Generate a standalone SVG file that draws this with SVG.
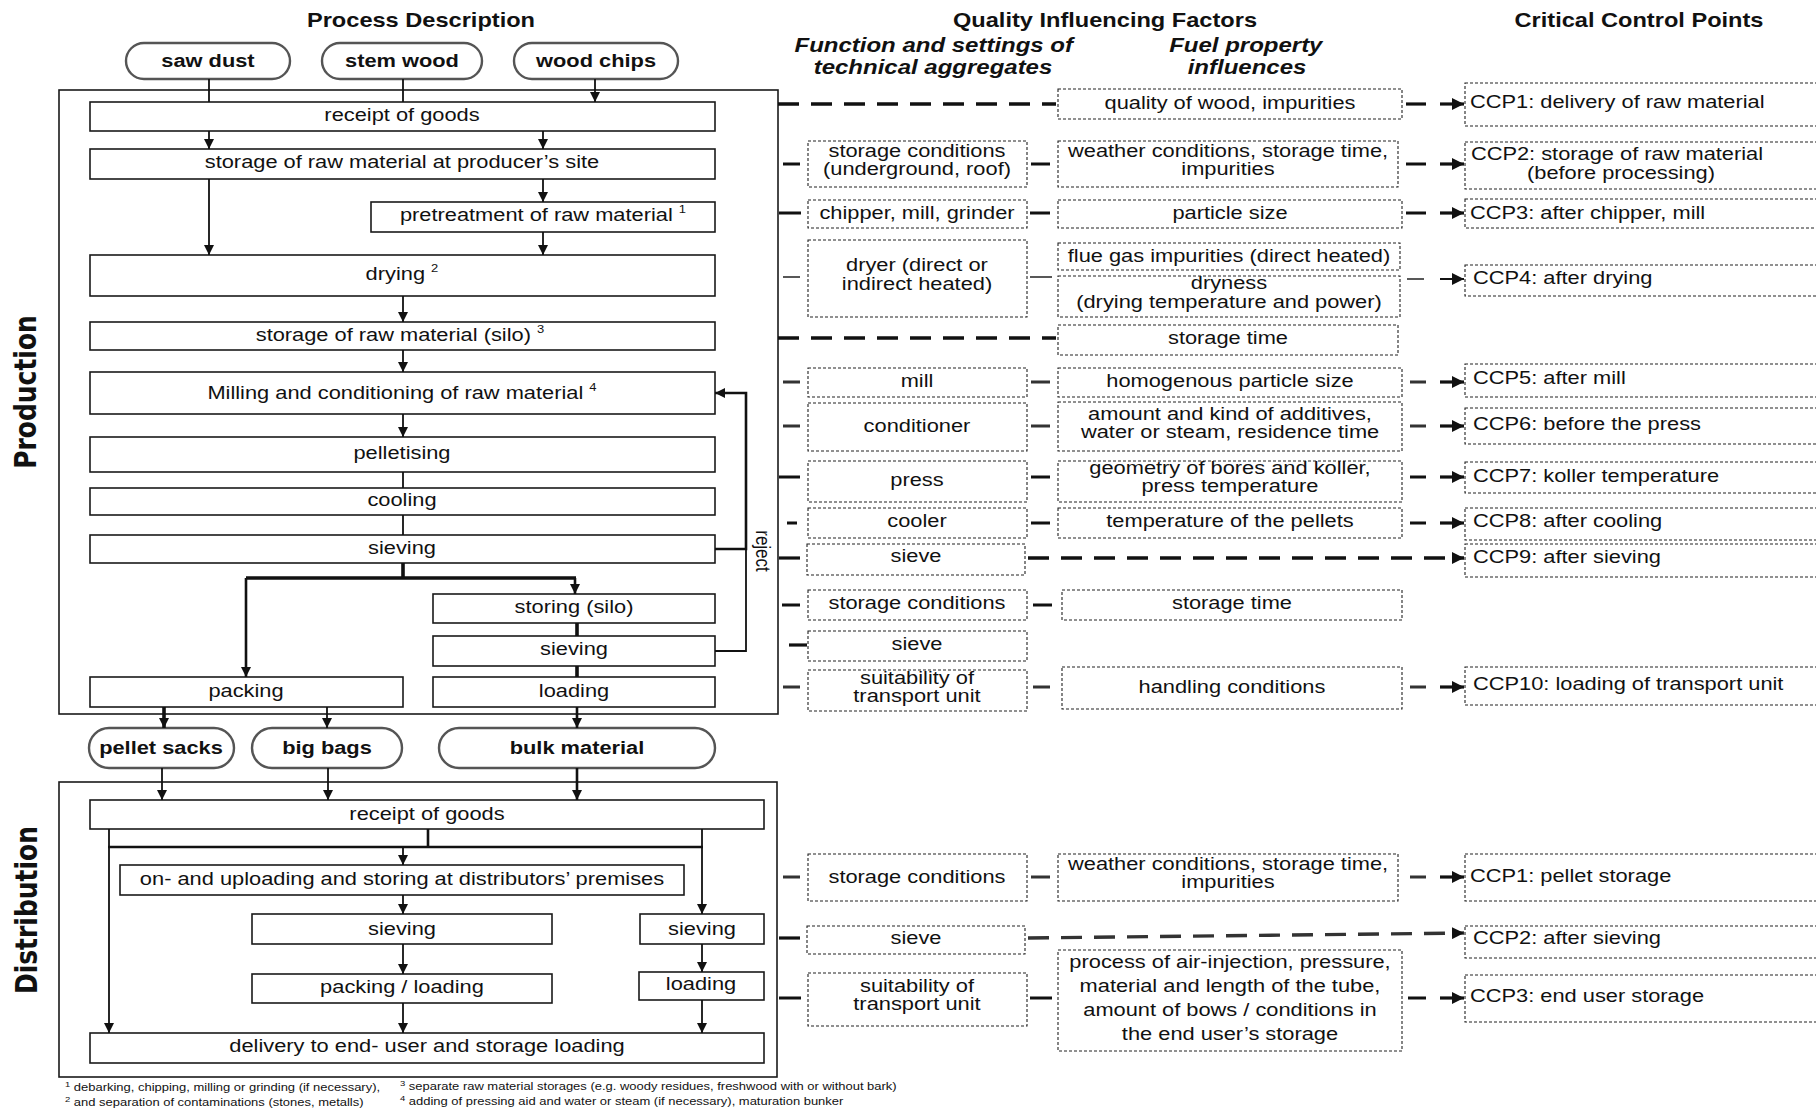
<svg xmlns="http://www.w3.org/2000/svg" width="1816" height="1110" viewBox="0 0 1816 1110">
<defs>
  <marker id="ah" markerUnits="userSpaceOnUse" markerWidth="10" markerHeight="10" refX="10" refY="5" orient="auto">
    <path d="M0,0 L10,5 L0,10 z" fill="#111"/>
  </marker>
  <marker id="ahb" markerUnits="userSpaceOnUse" markerWidth="12" markerHeight="12" refX="12" refY="6" orient="auto">
    <path d="M0,0 L12,6 L0,12 z" fill="#111"/>
  </marker>
  <style>
    .box{fill:#fff;stroke:#1a1a1a;stroke-width:1.6}
    .frame{fill:none;stroke:#1a1a1a;stroke-width:1.6}
    .pill{fill:#fff;stroke:#555;stroke-width:2.4}
    .dbox{fill:#fff;stroke:#222;stroke-width:1.1;stroke-dasharray:3 2}
    text{font-family:"Liberation Sans",Arial,Helvetica,sans-serif;fill:#111}
    .t,.tl,.pt,.hd,.sh,.fn{transform-box:fill-box;transform:scaleX(1.18)}
    .t{font-size:18.5px;text-anchor:middle;transform-origin:center}
    .tl{font-size:18.5px;text-anchor:start;transform-origin:0 50%}
    .pt{font-size:18.5px;font-weight:bold;text-anchor:middle;transform-origin:center}
    .hd{font-size:20px;font-weight:bold;text-anchor:middle;transform-origin:center}
    .sh{font-size:20px;font-weight:bold;font-style:italic;text-anchor:middle;transform-origin:center;transform:scaleX(1.2)}
    .fn{font-size:11px;text-anchor:start;transform-origin:0 50%}
    .vl{font-family:"DejaVu Sans",Verdana,sans-serif;font-size:25px;font-weight:bold;text-anchor:middle}
    .rj{font-size:17px;text-anchor:middle}
    .sup{font-size:11px}
    .fsup{font-size:8px}
    .ln{fill:none;stroke:#111;stroke-width:1.8}
    .lm{fill:none;stroke:#111;stroke-width:2.6}
    .lk{fill:none;stroke:#111;stroke-width:3.6}
    .dl{fill:none;stroke:#111;stroke-width:3.4;stroke-dasharray:21 12}
    .st{fill:none;stroke:#111;stroke-width:3.2}
    .sn{fill:none;stroke:#222;stroke-width:1.6}
  </style>
</defs>
<rect width="1816" height="1110" fill="#fff"/>

<!-- column headings -->
<g id="headings">
  <text class="hd" x="421" y="27">Process Description</text>
  <text class="hd" x="1105" y="27">Quality Influencing Factors</text>
  <text class="hd" x="1639" y="27">Critical Control Points</text>
  <text class="sh" x="934" y="52">Function and settings of</text>
  <text class="sh" x="933" y="74.5">technical aggregates</text>
  <text class="sh" x="1246" y="52">Fuel property</text>
  <text class="sh" x="1247" y="74.5">influences</text>
</g>

<!-- section frames and labels -->
<g id="production">
  <rect class="frame" x="59" y="90" width="719" height="624"/>
  <text class="vl" transform="translate(36 392) scale(1.18 1) rotate(-90)">Production</text>
</g>
<g id="distribution">
  <rect class="frame" x="59" y="782" width="718" height="295"/>
  <text class="vl" transform="translate(37 910) scale(1.18 1) rotate(-90)">Distribution</text>
</g>

<!-- raw material inputs -->
<g id="in-saw-dust"><rect class="pill" x="126" y="43" width="164" height="36" rx="18"/><text class="pt" x="208" y="67">saw dust</text></g>
<g id="in-stem-wood"><rect class="pill" x="322" y="43" width="160" height="36" rx="18"/><text class="pt" x="402" y="67">stem wood</text></g>
<g id="in-wood-chips"><rect class="pill" x="514" y="43" width="164" height="36" rx="18"/><text class="pt" x="596" y="67">wood chips</text></g>

<!-- production steps -->
<g id="p-receipt"><rect class="box" x="90" y="102" width="625" height="29"/><text class="t" x="402" y="121">receipt of goods</text></g>
<g id="p-storage"><rect class="box" x="90" y="149" width="625" height="30"/><text class="t" x="402" y="168">storage of raw material at producer’s site</text></g>
<g id="p-pretreat"><rect class="box" x="371" y="202" width="344" height="30"/><text class="t" x="543" y="221">pretreatment of raw material <tspan class="sup" dy="-8">1</tspan></text></g>
<g id="p-drying"><rect class="box" x="90" y="255" width="625" height="41"/><text class="t" x="402" y="280">drying <tspan class="sup" dy="-8">2</tspan></text></g>
<g id="p-silo"><rect class="box" x="90" y="322" width="625" height="28"/><text class="t" x="400" y="341">storage of raw material (silo) <tspan class="sup" dy="-8">3</tspan></text></g>
<g id="p-milling"><rect class="box" x="90" y="372" width="625" height="42"/><text class="t" x="402" y="399">Milling and conditioning of raw material <tspan class="sup" dy="-8">4</tspan></text></g>
<g id="p-pelletising"><rect class="box" x="90" y="437" width="625" height="35"/><text class="t" x="402" y="459">pelletising</text></g>
<g id="p-cooling"><rect class="box" x="90" y="488" width="625" height="27"/><text class="t" x="402" y="506">cooling</text></g>
<g id="p-sieving"><rect class="box" x="90" y="535" width="625" height="28"/><text class="t" x="402" y="554">sieving</text></g>
<g id="p-storing"><rect class="box" x="433" y="594" width="282" height="29"/><text class="t" x="574" y="613">storing (silo)</text></g>
<g id="p-sieving2"><rect class="box" x="433" y="636" width="282" height="30"/><text class="t" x="574" y="655">sieving</text></g>
<g id="p-packing"><rect class="box" x="90" y="677" width="313" height="30"/><text class="t" x="246" y="697">packing</text></g>
<g id="p-loading"><rect class="box" x="433" y="677" width="282" height="30"/><text class="t" x="574" y="697">loading</text></g>

<!-- products -->
<g id="out-pellet-sacks"><rect class="pill" x="89" y="728" width="145" height="40" rx="20"/><text class="pt" x="161" y="754">pellet sacks</text></g>
<g id="out-big-bags"><rect class="pill" x="252" y="728" width="150" height="40" rx="20"/><text class="pt" x="327" y="754">big bags</text></g>
<g id="out-bulk"><rect class="pill" x="439" y="728" width="276" height="40" rx="20"/><text class="pt" x="577" y="754">bulk material</text></g>

<!-- distribution steps -->
<g id="d-receipt"><rect class="box" x="90" y="800" width="674" height="29"/><text class="t" x="427" y="820">receipt of goods</text></g>
<g id="d-uploading"><rect class="box" x="120" y="865" width="564" height="30"/><text class="t" x="402" y="885">on- and uploading and storing at distributors’ premises</text></g>
<g id="d-sieving1"><rect class="box" x="252" y="914" width="300" height="30"/><text class="t" x="402" y="935">sieving</text></g>
<g id="d-sieving2"><rect class="box" x="640" y="914" width="124" height="30"/><text class="t" x="702" y="935">sieving</text></g>
<g id="d-packing"><rect class="box" x="252" y="974" width="300" height="29"/><text class="t" x="402" y="993">packing / loading</text></g>
<g id="d-loading"><rect class="box" x="639" y="972" width="125" height="28"/><text class="t" x="701" y="990">loading</text></g>
<g id="d-delivery"><rect class="box" x="90" y="1033" width="674" height="30"/><text class="t" x="427" y="1052">delivery to end- user and storage loading</text></g>

<!-- technical aggregates -->
<g id="a-storage"><rect class="dbox" x="808" y="141" width="219" height="46"/><text class="t" x="917" y="157">storage conditions</text><text class="t" x="917" y="175">(underground, roof)</text></g>
<g id="a-chipper"><rect class="dbox" x="808" y="200" width="219" height="28"/><text class="t" x="917" y="219">chipper, mill, grinder</text></g>
<g id="a-dryer"><rect class="dbox" x="808" y="240" width="219" height="77"/><text class="t" x="917" y="271">dryer (direct or</text><text class="t" x="917" y="290">indirect heated)</text></g>
<g id="a-mill"><rect class="dbox" x="808" y="368" width="219" height="29"/><text class="t" x="917" y="387">mill</text></g>
<g id="a-conditioner"><rect class="dbox" x="808" y="403" width="219" height="48"/><text class="t" x="917" y="432">conditioner</text></g>
<g id="a-press"><rect class="dbox" x="808" y="461" width="219" height="41"/><text class="t" x="917" y="486">press</text></g>
<g id="a-cooler"><rect class="dbox" x="808" y="508" width="219" height="30"/><text class="t" x="917" y="527">cooler</text></g>
<g id="a-sieve"><rect class="dbox" x="807" y="544" width="218" height="31"/><text class="t" x="916" y="562">sieve</text></g>
<g id="a-storage2"><rect class="dbox" x="808" y="590" width="219" height="30"/><text class="t" x="917" y="609">storage conditions</text></g>
<g id="a-sieve2"><rect class="dbox" x="808" y="631" width="219" height="30"/><text class="t" x="917" y="650">sieve</text></g>
<g id="a-transport"><rect class="dbox" x="808" y="670" width="219" height="41"/><text class="t" x="917" y="684">suitability of</text><text class="t" x="917" y="702">transport unit</text></g>
<g id="a-d-storage"><rect class="dbox" x="808" y="854" width="219" height="47"/><text class="t" x="917" y="883">storage conditions</text></g>
<g id="a-d-sieve"><rect class="dbox" x="807" y="926" width="218" height="28"/><text class="t" x="916" y="944">sieve</text></g>
<g id="a-d-transport"><rect class="dbox" x="808" y="973" width="219" height="53"/><text class="t" x="917" y="992">suitability of</text><text class="t" x="917" y="1010">transport unit</text></g>

<!-- fuel property influences -->
<g id="f-wood"><rect class="dbox" x="1058" y="89" width="344" height="30"/><text class="t" x="1230" y="109">quality of wood, impurities</text></g>
<g id="f-weather"><rect class="dbox" x="1058" y="141" width="340" height="46"/><text class="t" x="1228" y="157">weather conditions, storage time,</text><text class="t" x="1228" y="175">impurities</text></g>
<g id="f-particle"><rect class="dbox" x="1058" y="200" width="344" height="28"/><text class="t" x="1230" y="219">particle size</text></g>
<g id="f-fluegas"><rect class="dbox" x="1058" y="243" width="342" height="27"/><text class="t" x="1229" y="262">flue gas impurities (direct heated)</text></g>
<g id="f-dryness"><rect class="dbox" x="1058" y="276" width="342" height="41"/><text class="t" x="1229" y="289">dryness</text><text class="t" x="1229" y="308">(drying temperature and power)</text></g>
<g id="f-storagetime"><rect class="dbox" x="1058" y="325" width="340" height="30"/><text class="t" x="1228" y="344">storage time</text></g>
<g id="f-homogen"><rect class="dbox" x="1058" y="368" width="344" height="29"/><text class="t" x="1230" y="387">homogenous particle size</text></g>
<g id="f-additives"><rect class="dbox" x="1058" y="402" width="344" height="49"/><text class="t" x="1230" y="420">amount and kind of additives,</text><text class="t" x="1230" y="438">water or steam, residence time</text></g>
<g id="f-geometry"><rect class="dbox" x="1058" y="461" width="344" height="41"/><text class="t" x="1230" y="474">geometry of bores and koller,</text><text class="t" x="1230" y="492">press temperature</text></g>
<g id="f-temp"><rect class="dbox" x="1058" y="508" width="344" height="30"/><text class="t" x="1230" y="527">temperature of the pellets</text></g>
<g id="f-storagetime2"><rect class="dbox" x="1062" y="590" width="340" height="30"/><text class="t" x="1232" y="609">storage time</text></g>
<g id="f-handling"><rect class="dbox" x="1062" y="667" width="340" height="42"/><text class="t" x="1232" y="693">handling conditions</text></g>
<g id="f-d-weather"><rect class="dbox" x="1058" y="854" width="340" height="47"/><text class="t" x="1228" y="870">weather conditions, storage time,</text><text class="t" x="1228" y="888">impurities</text></g>
<g id="f-d-airinjection"><rect class="dbox" x="1058" y="950" width="344" height="101"/><text class="t" x="1230" y="968">process of air-injection, pressure,</text><text class="t" x="1230" y="992">material and length of the tube,</text><text class="t" x="1230" y="1016">amount of bows / conditions in</text><text class="t" x="1230" y="1040">the end user’s storage</text></g>

<!-- critical control points -->
<g id="ccp1"><rect class="dbox" x="1465" y="83" width="360" height="43"/><text class="tl" x="1470" y="108">CCP1: delivery of raw material</text></g>
<g id="ccp2"><rect class="dbox" x="1465" y="142" width="360" height="47"/><text class="t" x="1617" y="160">CCP2: storage of raw material</text><text class="t" x="1621" y="179">(before processing)</text></g>
<g id="ccp3"><rect class="dbox" x="1465" y="199" width="360" height="29"/><text class="tl" x="1470" y="219">CCP3: after chipper, mill</text></g>
<g id="ccp4"><rect class="dbox" x="1465" y="265" width="360" height="31"/><text class="tl" x="1473" y="284">CCP4: after drying</text></g>
<g id="ccp5"><rect class="dbox" x="1465" y="364" width="360" height="33"/><text class="tl" x="1473" y="384">CCP5: after mill</text></g>
<g id="ccp6"><rect class="dbox" x="1465" y="408" width="360" height="36"/><text class="tl" x="1473" y="430">CCP6: before the press</text></g>
<g id="ccp7"><rect class="dbox" x="1465" y="462" width="360" height="31"/><text class="tl" x="1473" y="482">CCP7: koller temperature</text></g>
<g id="ccp8"><rect class="dbox" x="1465" y="508" width="360" height="32"/><text class="tl" x="1473" y="527">CCP8: after cooling</text></g>
<g id="ccp9"><rect class="dbox" x="1465" y="544" width="360" height="33"/><text class="tl" x="1473" y="563">CCP9: after sieving</text></g>
<g id="ccp10"><rect class="dbox" x="1465" y="667" width="360" height="38"/><text class="tl" x="1473" y="690">CCP10: loading of transport unit</text></g>
<g id="d-ccp1"><rect class="dbox" x="1465" y="854" width="360" height="47"/><text class="tl" x="1470" y="882">CCP1: pellet storage</text></g>
<g id="d-ccp2"><rect class="dbox" x="1465" y="926" width="360" height="32"/><text class="tl" x="1473" y="944">CCP2: after sieving</text></g>
<g id="d-ccp3"><rect class="dbox" x="1465" y="975" width="360" height="47"/><text class="tl" x="1470" y="1002">CCP3: end user storage</text></g>

<!-- footnotes -->
<g id="footnotes">
  <text class="fn" x="65" y="1091"><tspan class="fsup" dy="-4">1</tspan><tspan dy="4"> debarking, chipping, milling or grinding (if necessary),</tspan></text>
  <text class="fn" x="65" y="1106"><tspan class="fsup" dy="-4">2</tspan><tspan dy="4"> and separation of contaminations (stones, metalls)</tspan></text>
  <text class="fn" x="400" y="1090"><tspan class="fsup" dy="-4">3</tspan><tspan dy="4"> separate raw material storages (e.g. woody residues, freshwood with or without bark)</tspan></text>
  <text class="fn" x="400" y="1105"><tspan class="fsup" dy="-4">4</tspan><tspan dy="4"> adding of pressing aid and water or steam (if necessary), maturation bunker</tspan></text>
</g>

<!-- connectors -->
<g id="connectors">
  <!-- production flow -->
  <path class="ln" marker-end="url(#ah)" d="M209,79 V102 M403,79 V102 M595,79 V102"/>
  <path class="ln" marker-end="url(#ah)" d="M209,131 V149"/>
  <path class="ln" marker-end="url(#ah)" d="M543,131 V149"/>
  <path class="ln" marker-end="url(#ah)" d="M543,179 V202"/>
  <path class="ln" marker-end="url(#ah)" d="M209,179 V255"/>
  <path class="ln" marker-end="url(#ah)" d="M543,232 V255"/>
  <path class="ln" marker-end="url(#ah)" d="M403,296 V322"/>
  <path class="ln" marker-end="url(#ah)" d="M403,350 V372"/>
  <path class="ln" marker-end="url(#ah)" d="M403,414 V437"/>
  <path class="ln" d="M403,472 V488 M403,515 V535"/>
  <path class="lk" d="M403,563 V578 M246,578 H576"/>
  <path class="lm" marker-end="url(#ah)" d="M575,578 V594"/>
  <path class="lm" marker-end="url(#ah)" d="M246,578 V677"/>
  <path class="lk" d="M577,623 V636 M577,666 V677"/>
  <path class="lm" marker-end="url(#ah)" d="M715,549 H746 V393 H715"/>
  <path class="ln" d="M715,651 H746 V549"/>
  <text class="rj" transform="translate(756 551) scale(1.18 1) rotate(90)">reject</text>
  <path class="lk" marker-end="url(#ah)" d="M164,707 V728"/>
  <path class="ln" marker-end="url(#ah)" d="M327,707 V728"/>
  <path class="lm" marker-end="url(#ah)" d="M577,707 V728"/>
  <!-- distribution flow -->
  <path class="ln" marker-end="url(#ah)" d="M162,768 V800"/>
  <path class="ln" marker-end="url(#ah)" d="M328,768 V800"/>
  <path class="lm" marker-end="url(#ah)" d="M577,768 V800"/>
  <path class="lm" d="M428,829 V847 M108,847 H703"/>
  <path class="ln" marker-end="url(#ah)" d="M109,829 V1033"/>
  <path class="ln" marker-end="url(#ah)" d="M702,829 V914"/>
  <path class="ln" marker-end="url(#ah)" d="M403,847 V865"/>
  <path class="ln" marker-end="url(#ah)" d="M403,895 V914"/>
  <path class="ln" marker-end="url(#ah)" d="M403,944 V974"/>
  <path class="ln" marker-end="url(#ah)" d="M403,1003 V1033"/>
  <path class="ln" marker-end="url(#ah)" d="M702,944 V972"/>
  <path class="ln" marker-end="url(#ah)" d="M702,1000 V1033"/>

  <!-- quality factor links -->
  <path class="dl" d="M778,104 H1056"/>
  <path class="st" d="M1406,104 H1426"/><path class="st" marker-end="url(#ahb)" d="M1440,104 H1464"/>

  <path class="st" d="M783,164 H800 M1031,164 H1050 M1406,164 H1426"/><path class="st" marker-end="url(#ahb)" d="M1440,164 H1464"/>
  <path class="st" d="M779,213 H801 M1030,213 H1050 M1406,213 H1426"/><path class="st" marker-end="url(#ahb)" d="M1440,213 H1464"/>
  <path class="sn" d="M783,277 H800 M1030,277 H1052 M1407,279 H1424"/><path class="st" marker-end="url(#ahb)" d="M1440,279 H1464" style="stroke-width:2"/>
  <path class="dl" d="M778,338 H1056"/>
  <path class="st" d="M783,382 H800 M1031,382 H1050 M1410,382 H1426" style="stroke:#333"/><path class="st" marker-end="url(#ahb)" d="M1440,382 H1464"/>
  <path class="st" d="M783,426 H800 M1031,426 H1050 M1410,426 H1426" style="stroke:#333"/><path class="st" marker-end="url(#ahb)" d="M1440,426 H1464"/>
  <path class="st" d="M779,477 H800 M1031,477 H1050 M1410,477 H1426"/><path class="st" marker-end="url(#ahb)" d="M1440,477 H1464"/>
  <path class="st" d="M787,523 H797 M1031,523 H1050 M1410,523 H1426"/><path class="st" marker-end="url(#ahb)" d="M1440,523 H1464"/>
  <path class="st" d="M779,558 H800"/>
  <path class="dl" marker-end="url(#ahb)" d="M1028,558 H1464"/>
  <path class="st" d="M782,605 H800 M1033,605 H1052"/>
  <path class="st" d="M789,645 H807"/>
  <path class="st" d="M783,687 H800 M1033,687 H1050 M1410,687 H1426" style="stroke:#333"/><path class="st" marker-end="url(#ahb)" d="M1440,687 H1464"/>

  <path class="st" d="M783,877 H800 M1031,877 H1050 M1410,877 H1426" style="stroke:#333"/><path class="st" marker-end="url(#ahb)" d="M1440,877 H1464"/>
  <path class="st" d="M779,938 H800"/>
  <path class="dl" marker-end="url(#ahb)" d="M1028,938 L1464,933" style="stroke:#333"/>
  <path class="st" d="M779,998 H801 M1030,998 H1052 M1408,998 H1426"/><path class="st" marker-end="url(#ahb)" d="M1440,998 H1464"/>
</g>
</svg>
